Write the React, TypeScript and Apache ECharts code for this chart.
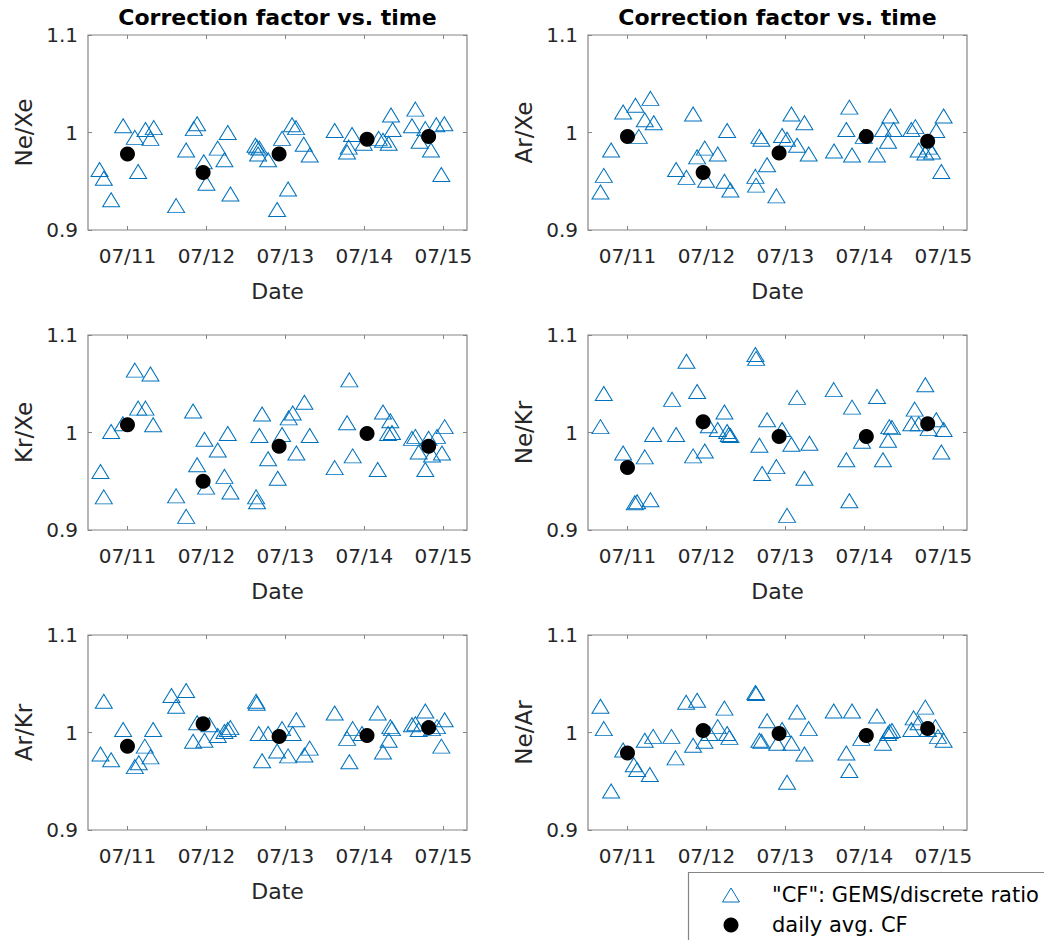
import React, { useEffect, useRef } from "react";
import * as echarts from "echarts";

const DATE_TICKS = [0, 1, 2, 3, 4];
const DATE_LABELS = ["07/11", "07/12", "07/13", "07/14", "07/15"];
const Y_TICKS = [0.9, 1.0, 1.1];
const PANEL_LABELS = ["Ne/Xe", "Ar/Xe", "Kr/Xe", "Ne/Kr", "Ar/Kr", "Ne/Ar"];
const TITLE_TEXT = "Correction factor vs. time";
const CF_NAME = '"CF": GEMS/discrete ratio';
const AVG_NAME = "daily avg. CF";

// x = days since 07/11 00:00, y = ratio
const NE_XE_CF = [
  [-0.354, 0.962], [-0.3, 0.953], [-0.207, 0.931], [-0.055, 1.007], [0.093, 0.995], [0.135, 0.96], [0.228, 1.003], [0.291, 0.994], [0.333, 1.005],
  [0.616, 0.925], [0.743, 0.982], [0.84, 1.004], [0.882, 1.009], [0.966, 0.97], [1.0, 0.948], [1.143, 0.984], [1.228, 0.972], [1.27, 1.0], [1.304, 0.937],
  [1.62, 0.987], [1.641, 0.985], [1.671, 0.984], [1.654, 0.978], [1.781, 0.972], [1.895, 0.921], [1.958, 0.994], [2.034, 0.942], [2.084, 1.008], [2.135, 1.005], [2.232, 0.988], [2.308, 0.977],
  [2.624, 1.002], [2.844, 0.998], [2.802, 0.985], [2.781, 0.98], [2.992, 0.989], [3.181, 0.994], [3.236, 0.992], [3.308, 0.989], [3.338, 1.018], [3.359, 1.003],
  [3.603, 1.007], [3.646, 1.024], [3.7, 0.991], [3.772, 1.004], [3.844, 0.982], [3.911, 1.008], [4.013, 1.009], [3.975, 0.957],
];
const NE_XE_AVG = [[0, 0.978], [0.958, 0.959], [1.92, 0.978], [3.034, 0.993], [3.814, 0.996]];

const AR_XE_CF = [
  [-0.342, 0.939], [-0.3, 0.956], [-0.207, 0.982], [-0.055, 1.021], [0.101, 1.028], [0.143, 0.996], [0.219, 1.013], [0.291, 1.035], [0.333, 1.01],
  [0.616, 0.962], [0.747, 0.954], [0.831, 1.019], [0.882, 0.975], [0.979, 0.984], [0.996, 0.951], [1.143, 0.978], [1.228, 0.95], [1.262, 1.002], [1.304, 0.941],
  [1.62, 0.955], [1.629, 0.946], [1.671, 0.996], [1.696, 0.993], [1.768, 0.967], [1.886, 0.935], [1.958, 0.997], [2.021, 0.993], [2.076, 1.019], [2.148, 0.987], [2.241, 1.01], [2.295, 0.978],
  [2.616, 0.981], [2.772, 1.003], [2.81, 1.026], [2.844, 0.977], [2.992, 0.996], [3.16, 0.977], [3.236, 1.003], [3.3, 0.991], [3.329, 1.017], [3.371, 1.003],
  [3.595, 1.003], [3.646, 1.006], [3.688, 0.982], [3.772, 0.979], [3.814, 0.985], [3.857, 0.98], [3.911, 1.002], [3.975, 0.96], [4.004, 1.017],
];
const AR_XE_AVG = [[0, 0.996], [0.958, 0.959], [1.92, 0.979], [3.025, 0.996], [3.802, 0.991]];

const KR_XE_CF = [
  [-0.342, 0.96], [-0.3, 0.934], [-0.207, 1.001], [-0.059, 1.009], [0.093, 1.064], [0.135, 1.025], [0.228, 1.025], [0.291, 1.06], [0.325, 1.008],
  [0.616, 0.935], [0.743, 0.914], [0.831, 1.022], [0.882, 0.967], [0.975, 0.993], [0.996, 0.944], [1.143, 0.982], [1.228, 0.955], [1.27, 0.999], [1.304, 0.939],
  [1.629, 0.934], [1.641, 0.929], [1.671, 0.997], [1.705, 1.019], [1.781, 0.973], [1.903, 0.953], [1.958, 0.998], [2.042, 1.015], [2.093, 1.02], [2.139, 0.979], [2.241, 1.031], [2.308, 0.997],
  [2.624, 0.964], [2.781, 1.01], [2.81, 1.054], [2.852, 0.976], [3.169, 0.962], [3.236, 1.021], [3.3, 0.999], [3.329, 1.012], [3.35, 1.0],
  [3.603, 0.994], [3.646, 0.996], [3.688, 0.98], [3.772, 0.962], [3.814, 0.994], [3.857, 0.977], [3.92, 0.996], [3.983, 0.979], [4.017, 1.006],
];
const KR_XE_AVG = [[0, 1.008], [0.958, 0.95], [1.92, 0.986], [3.034, 0.999], [3.814, 0.986]];

const NE_KR_CF = [
  [-0.342, 1.006], [-0.3, 1.04], [-0.055, 0.979], [0.093, 0.928], [0.122, 0.929], [0.219, 0.975], [0.291, 0.931], [0.325, 0.998],
  [0.565, 1.034], [0.616, 0.998], [0.747, 1.073], [0.831, 0.976], [0.882, 1.042], [0.979, 0.981], [1.03, 1.007], [1.143, 1.003], [1.228, 1.021], [1.262, 1.001], [1.283, 0.998], [1.304, 0.997],
  [1.62, 1.08], [1.629, 1.076], [1.671, 0.987], [1.705, 0.958], [1.768, 1.013], [1.886, 0.965], [1.958, 1.003], [2.021, 0.915], [2.076, 0.988], [2.148, 1.036], [2.241, 0.953], [2.304, 0.989],
  [2.612, 1.044], [2.772, 0.972], [2.81, 0.93], [2.844, 1.026], [2.97, 0.991], [3.16, 1.037], [3.236, 0.972], [3.3, 0.992], [3.316, 1.006], [3.35, 1.005],
  [3.595, 1.009], [3.637, 1.024], [3.688, 1.009], [3.772, 1.049], [3.814, 1.004], [3.911, 1.013], [3.975, 0.98], [4.004, 1.003],
];
const NE_KR_AVG = [[0, 0.964], [0.958, 1.011], [1.92, 0.996], [3.025, 0.996], [3.802, 1.009]];

const AR_KR_CF = [
  [-0.342, 0.978], [-0.3, 1.032], [-0.207, 0.972], [-0.055, 1.003], [0.093, 0.965], [0.143, 0.969], [0.219, 0.986], [0.291, 0.975], [0.325, 1.003],
  [0.557, 1.038], [0.616, 1.027], [0.743, 1.043], [0.831, 0.991], [0.882, 1.01], [0.975, 0.992], [1.038, 1.008], [1.143, 0.997], [1.228, 1.001], [1.27, 1.003], [1.304, 1.005],
  [1.629, 1.032], [1.637, 1.03], [1.662, 0.999], [1.705, 0.971], [1.781, 0.999], [1.895, 0.981], [1.958, 1.004], [2.034, 0.976], [2.093, 0.999], [2.139, 1.013], [2.241, 0.977], [2.308, 0.984],
  [2.624, 1.02], [2.781, 0.994], [2.81, 0.97], [2.852, 1.004], [2.97, 0.999], [3.169, 1.02], [3.236, 0.98], [3.308, 0.992], [3.329, 1.006], [3.35, 1.004],
  [3.603, 1.008], [3.646, 1.009], [3.688, 1.003], [3.772, 1.022], [3.857, 1.004], [3.92, 1.006], [3.975, 0.986], [4.017, 1.013],
];
const AR_KR_AVG = [[0, 0.986], [0.958, 1.009], [1.92, 0.996], [3.034, 0.997], [3.814, 1.005]];

const NE_AR_CF = [
  [-0.342, 1.027], [-0.3, 1.004], [-0.207, 0.94], [-0.055, 0.982], [0.08, 0.967], [0.122, 0.962], [0.219, 0.992], [0.283, 0.957], [0.325, 0.996],
  [0.557, 0.996], [0.608, 0.974], [0.743, 1.031], [0.831, 0.987], [0.882, 1.033], [0.975, 0.991], [1.038, 0.999], [1.143, 1.006], [1.228, 1.025], [1.262, 0.999], [1.291, 0.995],
  [1.62, 1.041], [1.629, 1.04], [1.671, 0.992], [1.696, 0.991], [1.768, 1.012], [1.895, 0.989], [1.958, 1.003], [2.021, 0.949], [2.076, 0.989], [2.148, 1.021], [2.241, 0.978], [2.295, 1.004],
  [2.612, 1.022], [2.772, 0.979], [2.81, 0.961], [2.844, 1.022], [2.962, 0.994], [3.16, 1.017], [3.236, 0.989], [3.3, 0.999], [3.321, 1.001], [3.35, 1.002],
  [3.595, 1.003], [3.624, 1.015], [3.688, 1.01], [3.772, 1.026], [3.806, 1.003], [3.899, 1.006], [3.932, 0.996], [4.004, 0.992],
];
const NE_AR_AVG = [[0, 0.979], [0.958, 1.002], [1.92, 0.999], [3.025, 0.997], [3.802, 1.004]];

const PANEL_CF = [NE_XE_CF, AR_XE_CF, KR_XE_CF, NE_KR_CF, AR_KR_CF, NE_AR_CF];
const PANEL_AVG = [NE_XE_AVG, AR_XE_AVG, KR_XE_AVG, NE_KR_AVG, AR_KR_AVG, NE_AR_AVG];

const FONT = '"DejaVu Sans", "Liberation Sans", sans-serif';
const FRAME = "#858585";
const TEXT = "#262626";
const BLUE = "#0072BD";

export default function App() {
  const ref = useRef<HTMLDivElement>(null);

  useEffect(() => {
    document.body.style.margin = "0";
    if (!ref.current) return;
    const chart = echarts.init(ref.current, null, { renderer: "svg" });

    const colLeft = [88, 588];
    const rowTop = [35, 335, 635];
    const gw = 379;
    const gh = 195;

    const grids: any[] = [];
    const xAxes: any[] = [];
    const yAxes: any[] = [];
    const series: any[] = [];

    PANEL_LABELS.forEach((label, i) => {
      const c = i % 2;
      const r = Math.floor(i / 2);
      const showDate = i !== 5; // bottom-right "Date" is hidden under the legend
      grids.push({
        left: colLeft[c],
        top: rowTop[r],
        width: gw,
        height: gh,
        show: true,
        borderColor: FRAME,
        borderWidth: 1.2,
        backgroundColor: "#fff",
      });
      const tickStyle = { show: true, inside: true, length: 4, lineStyle: { color: FRAME, width: 1 } };
      const noLine = { show: false, onZero: false };
      xAxes.push({
        gridIndex: i,
        type: "value",
        position: "bottom",
        min: -0.5,
        max: 4.3,
        axisLine: noLine,
        splitLine: { show: false },
        axisTick: { ...tickStyle, customValues: DATE_TICKS },
        axisLabel: {
          customValues: DATE_TICKS,
          formatter: (v: number) => DATE_LABELS[Math.round(v)],
          fontSize: 20,
          fontFamily: FONT,
          color: TEXT,
          margin: 16,
        },
        name: showDate ? "Date" : "",
        nameLocation: "middle",
        nameGap: 50,
        nameTextStyle: { fontSize: 22, fontFamily: FONT, color: TEXT },
      });
      xAxes.push({
        gridIndex: i,
        type: "value",
        position: "top",
        min: -0.5,
        max: 4.3,
        axisLine: noLine,
        splitLine: { show: false },
        axisTick: { ...tickStyle, customValues: DATE_TICKS },
        axisLabel: { show: false },
      });
      yAxes.push({
        gridIndex: i,
        type: "value",
        position: "left",
        min: 0.9,
        max: 1.1,
        axisLine: noLine,
        splitLine: { show: false },
        axisTick: { ...tickStyle, customValues: Y_TICKS },
        axisLabel: {
          customValues: Y_TICKS,
          formatter: (v: number) => String(Math.round(v * 10) / 10),
          fontSize: 20,
          fontFamily: FONT,
          color: TEXT,
          margin: 10,
        },
        name: label,
        nameLocation: "middle",
        nameGap: 53,
        nameTextStyle: { fontSize: 23, fontFamily: FONT, color: TEXT },
      });
      yAxes.push({
        gridIndex: i,
        type: "value",
        position: "right",
        min: 0.9,
        max: 1.1,
        axisLine: noLine,
        splitLine: { show: false },
        axisTick: { ...tickStyle, customValues: Y_TICKS },
        axisLabel: { show: false },
      });
      series.push({
        type: "scatter",
        name: CF_NAME,
        xAxisIndex: 2 * i,
        yAxisIndex: 2 * i,
        data: PANEL_CF[i],
        symbol: "triangle",
        symbolSize: [17, 14],
        itemStyle: { color: "rgba(0,0,0,0)", borderColor: BLUE, borderWidth: 1, opacity: 1 },
        z: 2,
      });
      series.push({
        type: "scatter",
        name: AVG_NAME,
        xAxisIndex: 2 * i,
        yAxisIndex: 2 * i,
        data: PANEL_AVG[i],
        symbol: "circle",
        symbolSize: 15,
        itemStyle: { color: "#000", opacity: 1 },
        z: 3,
      });
    });

    const graphic: any[] = [
      {
        type: "text",
        x: 277.5,
        y: 17,
        z: 50,
        style: { text: TITLE_TEXT, font: `bold 22px ${FONT}`, fill: "#000", align: "center", verticalAlign: "middle" },
      },
      {
        type: "text",
        x: 777.5,
        y: 17,
        z: 50,
        style: { text: TITLE_TEXT, font: `bold 22px ${FONT}`, fill: "#000", align: "center", verticalAlign: "middle" },
      },
      {
        type: "rect",
        z: 100,
        shape: { x: 688.5, y: 872.5, width: 420, height: 120 },
        style: { fill: "#fff", stroke: FRAME, lineWidth: 1.2 },
      },
      {
        type: "polygon",
        z: 101,
        shape: { points: [[722.5, 902], [739.5, 902], [731, 888]] },
        style: { fill: "none", stroke: BLUE, lineWidth: 1 },
      },
      {
        type: "circle",
        z: 101,
        shape: { cx: 731, cy: 925, r: 7.5 },
        style: { fill: "#000" },
      },
      {
        type: "text",
        z: 101,
        x: 772,
        y: 895,
        style: { text: CF_NAME, font: `21px ${FONT}`, fill: "#000", verticalAlign: "middle" },
      },
      {
        type: "text",
        z: 101,
        x: 772,
        y: 925,
        style: { text: AVG_NAME, font: `21px ${FONT}`, fill: "#000", verticalAlign: "middle" },
      },
    ];

    chart.setOption({
      animation: false,
      backgroundColor: "#fff",
      grid: grids,
      xAxis: xAxes,
      yAxis: yAxes,
      series,
      graphic,
    });

    return () => chart.dispose();
  }, []);

  return (
    <div
      ref={ref}
      style={{ position: "absolute", left: 0, top: 0, width: 1044, height: 940 }}
    />
  );
}
